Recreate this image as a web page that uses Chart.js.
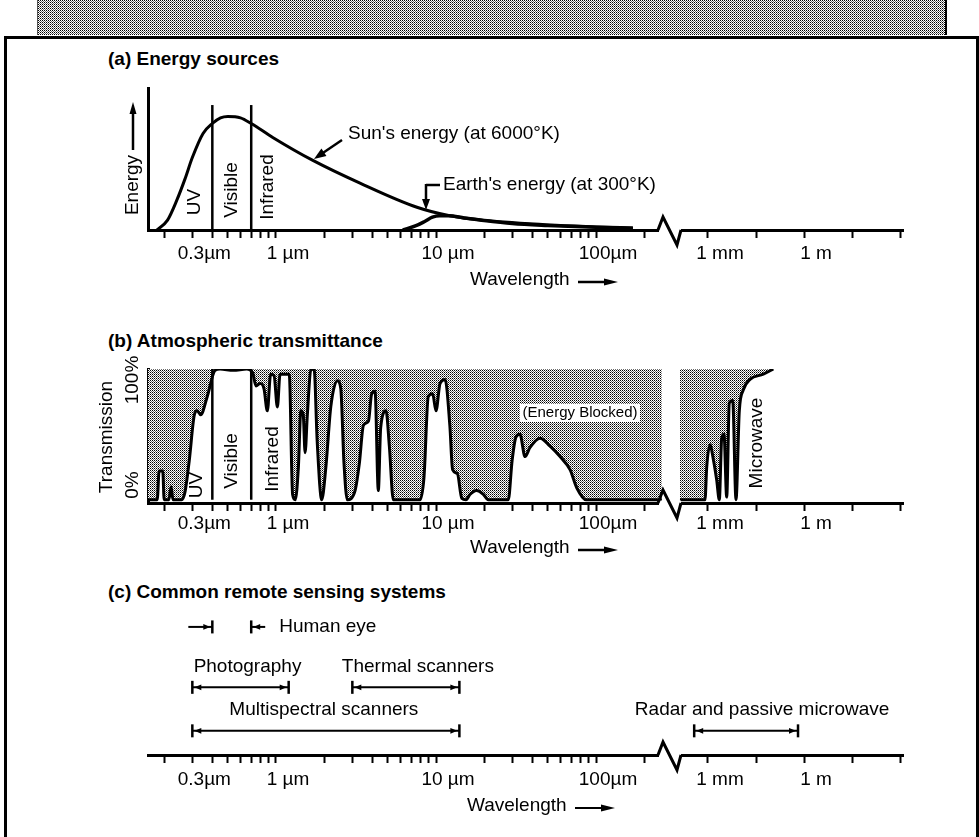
<!DOCTYPE html>
<html>
<head>
<meta charset="utf-8">
<script src="https://cdn.jsdelivr.net/npm/chart.js@4.4.1/dist/chart.umd.min.js"></script>
<style>
  body { margin: 0; background: #fff; width: 979px; height: 837px; overflow: hidden; position: relative;
         font-family: "Liberation Sans", Arial, sans-serif; }
  #band { position: absolute; left: 37px; top: 0; width: 907px; height: 35px;
          border-left: 1px solid #555; border-right: 2px solid #000; }
  #frame { position: absolute; left: 4px; top: 36px; width: 969px; height: 830px;
           border: 3px solid #000; border-bottom: none; }
  .ttl { position: absolute; left: 108px; font-weight: bold; font-size: 19px; line-height: 19px; white-space: nowrap; }
  canvas { position: absolute; left: 0; }
</style>
</head>
<body>
<div id="band"></div>
<div id="frame"></div>
<div class="ttl" style="top:49px">(a) Energy sources</div>
<div class="ttl" style="top:331px">(b) Atmospheric transmittance</div>
<div class="ttl" style="top:582px">(c) Common remote sensing systems</div>
<canvas id="ca" width="979" height="240" style="top:70px"></canvas>
<canvas id="cb" width="979" height="215" style="top:350px"></canvas>
<canvas id="cc" width="979" height="237" style="top:600px"></canvas>
<script>
const FONT = '"Liberation Sans", Arial, Helvetica, sans-serif';
Chart.defaults.font.family = FONT;
Chart.defaults.color = '#000';

// wavelength axis, values in µm (left part log, right part after the break)
const leftTicks = [0.2, 0.3, 0.4, 0.5, 0.6, 0.7, 0.8, 0.9, 1, 2, 3, 4, 5, 6, 7, 8, 9,
                   10, 20, 30, 40, 50, 60, 70, 80, 90, 100, 200];
const leftTickLabels = { 0.3: '0.3µm', 1: '1 µm', 10: '10 µm', 100: '100µm' };
const rightTicks = [1e3, 3.162e4, 1e6, 3.162e7, 1e9];
const rightTickLabels = { 1000: '1 mm', 1000000: '1 m' };

// (a) energy sources, relative energy
const sunWl     = [0.18, 0.21, 0.24, 0.27, 0.30, 0.35, 0.40, 0.45, 0.50, 0.60, 0.70, 0.96, 1.7, 3.35, 7.6, 12.2, 20, 51, 100, 170];
const sunEnergy = [0, 0.07, 0.21, 0.36, 0.51, 0.68, 0.75, 0.79, 0.80, 0.79, 0.75, 0.65, 0.49, 0.33, 0.16, 0.10, 0.068, 0.035, 0.022, 0.014];
const earthWl     = [6.2, 7.5, 8.5, 9.5, 10.5, 12, 15, 20, 30, 50, 100, 170];
const earthEnergy = [0, 0.03, 0.06, 0.09, 0.10, 0.10, 0.085, 0.066, 0.045, 0.032, 0.02, 0.013];
const bandEdges = [0.4, 0.7];
const bandTopA = 0.88;

// (b) atmospheric transmission, %
const transWl  = [0.1585, 0.181, 0.186, 0.196, 0.200, 0.214, 0.221, 0.227, 0.257, 0.270, 0.287, 0.309, 0.322, 0.338, 0.372,
                  0.416, 0.447, 0.541, 0.656, 0.715, 0.75, 0.794, 0.841, 0.883, 0.926, 0.972, 1.02, 1.06, 1.21, 1.27,
                  1.32, 1.38, 1.43, 1.48, 1.52, 1.57, 1.65, 1.73, 1.81, 1.93, 2.05, 2.20, 2.42, 2.54, 2.66,
                  2.79, 3.12, 3.32, 3.52, 3.78, 3.96, 4.16, 4.36, 4.51, 4.87, 5.11, 5.41, 7.94, 8.41, 8.95,
                  9.53, 10.0, 10.6, 11.4, 12.2, 12.7, 13.6, 14.5, 15.4, 16.3, 17.9, 19.8, 21.2, 28.3, 29.9,
                  31.6, 33.5, 36, 38.7, 44.7, 51.6, 59.6, 68.8, 75.9, 86.7, 258];
const transPct = [0, 0, 22, 22, 0, 0, 10, 0, 0, 6, 30, 65, 68, 65, 79,
                  99, 100, 99, 100, 97, 87, 89, 85, 68, 96, 95, 71, 96, 96, 4,
                  0, 25, 68, 65, 36, 65, 99, 100, 44, 0, 25, 71, 91, 85, 28,
                  0, 7, 28, 57, 60, 81, 83, 7, 55, 68, 41, 0, 0, 17, 79,
                  81, 68, 89, 92, 57, 23, 20, 1, 0, 4, 7, 4, 0, 0, 30,
                  48, 50, 33, 40, 47, 41, 33, 23, 9, 0, 0];
const microWl  = [133, 806, 912, 1155, 1465, 1870, 2255, 2680, 3162, 3838, 4634, 5910, 7500, 9510, 12700, 20500, 53500, 110000];
const microPct = [0, 0, 25, 42, 31, 15, 0, 47, 50, 2, 74, 76, 0, 68, 84, 92, 96, 100];

// (c) remote sensing systems, µm
const systemNames = ['Photography', 'Thermal scanners', 'Multispectral scanners', 'Radar and passive microwave'];
const systemLo = [0.3, 3, 0.3, 370];
const systemHi = [1.2, 14, 14, 650000];
const eyeRange = [0.4, 0.7];

// layout only
const systemRow = [2.8, 2.8, 1, 1];
const systemAxis = ['x', 'x', 'x', 'x2'];
const systemLabelDx = [7, 12, -2, 16];
const eyeRow = 5.3;

const pts = (xs, ys) => xs.map((x, i) => ({ x: x, y: ys[i] }));

function halftoneTile() {
  const t = document.createElement('canvas');
  t.width = 2; t.height = 2;
  const c = t.getContext('2d');
  c.fillStyle = '#fff'; c.fillRect(0, 0, 2, 2);
  c.fillStyle = '#000'; c.fillRect(0, 0, 1, 1);
  c.fillStyle = '#6a6a6a'; c.fillRect(1, 1, 1, 1);
  return t;
}
document.getElementById('band').style.backgroundImage = 'url(' + halftoneTile().toDataURL() + ')';

function wlScales(pad, axisH) {
  const common = () => ({
    type: 'logarithmic', position: 'bottom', stack: 'wl',
    border: { display: true, color: '#000', width: 3 },
    grid: { drawOnChartArea: false, tickLength: 8, tickWidth: 2, tickColor: '#000' },
    afterFit: s => { s.height = axisH; }
  });
  const tickOpts = { autoSkip: false, maxRotation: 0, minRotation: 0, padding: pad, labelOffset: 12,
                     color: '#000', font: { family: FONT, size: 19 } };
  return {
    x: Object.assign(common(), {
      min: 0.1585, max: 298.5, stackWeight: 524,
      afterBuildTicks: s => { s.ticks = leftTicks.map(v => ({ value: v })); },
      ticks: Object.assign({}, tickOpts, { callback: v => leftTickLabels[v] || '' })
    }),
    x2: Object.assign(common(), {
      min: 75, max: 1.24e9, stackWeight: 231,
      afterBuildTicks: s => { s.ticks = rightTicks.map(v => ({ value: v })); },
      ticks: Object.assign({}, tickOpts, { callback: v => rightTickLabels[v] || '' })
    })
  };
}

function leftAxis(min, max) {
  return { min: min, max: max, ticks: { display: false }, grid: { display: false },
           border: { display: true, color: '#000', width: 3 }, afterFit: s => { s.width = 0; } };
}

function baseOptions(padTop, scales) {
  return {
    responsive: false, animation: false, devicePixelRatio: 1,
    layout: { padding: { left: 148, right: 76, top: padTop, bottom: 0 } },
    plugins: { legend: { display: false }, tooltip: { enabled: false } },
    elements: { point: { radius: 0 } },
    scales: scales
  };
}

// drawing helpers
function txt(ctx, s, x, y, size, align) {
  ctx.font = (size || 19) + 'px ' + FONT;
  ctx.textAlign = align || 'left';
  ctx.textBaseline = 'middle';
  ctx.fillStyle = '#000';
  ctx.fillText(s, x, y);
}
function vtxt(ctx, s, x, y, size) {
  ctx.save(); ctx.translate(x, y); ctx.rotate(-Math.PI / 2);
  txt(ctx, s, 0, 0, size, 'center');
  ctx.restore();
}
function arrow(ctx, x1, y1, x2, y2, lw, hl, hw) {
  const a = Math.atan2(y2 - y1, x2 - x1);
  ctx.strokeStyle = '#000'; ctx.fillStyle = '#000'; ctx.lineWidth = lw;
  ctx.beginPath(); ctx.moveTo(x1, y1);
  ctx.lineTo(x2 - hl * 0.7 * Math.cos(a), y2 - hl * 0.7 * Math.sin(a)); ctx.stroke();
  ctx.beginPath(); ctx.moveTo(x2, y2);
  ctx.lineTo(x2 - hl * Math.cos(a) + hw * Math.sin(a), y2 - hl * Math.sin(a) - hw * Math.cos(a));
  ctx.lineTo(x2 - hl * Math.cos(a) - hw * Math.sin(a), y2 - hl * Math.sin(a) + hw * Math.cos(a));
  ctx.closePath(); ctx.fill();
}
function zigzag(chart) {
  const ctx = chart.ctx, j = chart.scales.x.right, y = chart.chartArea.bottom;
  ctx.fillStyle = '#fff';
  ctx.fillRect(j - 13, y - 2.5, 22, 5);
  ctx.beginPath();
  ctx.moveTo(j - 14, y); ctx.lineTo(j - 9, y - 13); ctx.lineTo(j + 5, y + 15); ctx.lineTo(j + 9, y);
  ctx.strokeStyle = '#000'; ctx.lineWidth = 3; ctx.lineJoin = 'miter'; ctx.stroke();
}
function wavelengthLabel(ctx, x, y, lw) {
  txt(ctx, 'Wavelength', x, y, 19);
  arrow(ctx, x + 108, y + 2, x + 148, y + 2, lw, 14, 3.5);
}

// ---------- (a) ----------
const bandLine = (edge, top) => ({ data: [{ x: edge, y: 0 }, { x: edge, y: top }], borderColor: '#000', borderWidth: 2.5, order: -1 });

new Chart(document.getElementById('ca'), {
  type: 'line',
  data: {
    datasets: [
      { data: pts(sunWl, sunEnergy), borderColor: '#000', borderWidth: 3, cubicInterpolationMode: 'monotone' },
      { data: pts(earthWl, earthEnergy), borderColor: '#000', borderWidth: 3.5, cubicInterpolationMode: 'monotone' },
      bandLine(bandEdges[0], bandTopA),
      bandLine(bandEdges[1], bandTopA)
    ]
  },
  options: baseOptions(18, Object.assign(wlScales(4, 80), { y: leftAxis(0, 1) })),
  plugins: [{
    id: 'extrasA',
    afterDraw(chart) {
      zigzag(chart);
      const ctx = chart.ctx;
      ctx.save(); ctx.translate(0, -70);
      vtxt(ctx, 'Energy', 133, 185);
      arrow(ctx, 133, 150, 133, 102, 2.5, 12, 3.5);
      vtxt(ctx, 'UV', 195, 202);
      vtxt(ctx, 'Visible', 232, 190);
      vtxt(ctx, 'Infrared', 268, 187);
      txt(ctx, "Sun's energy (at 6000°K)", 348, 134);
      arrow(ctx, 342, 140, 314, 159, 2.5, 12, 4.5);
      txt(ctx, "Earth's energy (at 300°K)", 443, 185);
      ctx.lineWidth = 2.5; ctx.strokeStyle = '#000';
      ctx.beginPath(); ctx.moveTo(440, 185); ctx.lineTo(426, 185); ctx.stroke();
      arrow(ctx, 426, 184, 426, 210, 2.5, 11, 4);
      wavelengthLabel(ctx, 470, 280, 2.5);
      ctx.restore();
    }
  }]
});

// ---------- (b) ----------
const ctxB = document.getElementById('cb').getContext('2d');
const patB = ctxB.createPattern(halftoneTile(), 'repeat');

new Chart(ctxB, {
  type: 'line',
  data: {
    datasets: [
      { data: pts(transWl, transPct), borderColor: '#000', borderWidth: 3, fill: 'end',
        backgroundColor: patB, cubicInterpolationMode: 'monotone' },
      { data: pts(microWl, microPct), xAxisID: 'x2', borderColor: '#000', borderWidth: 3, fill: 'end',
        backgroundColor: patB, cubicInterpolationMode: 'monotone' },
      bandLine(bandEdges[0], 100),
      bandLine(bandEdges[1], 100)
    ]
  },
  options: baseOptions(19, Object.assign(wlScales(1, 62), { y: leftAxis(-2.5, 100) })),
  plugins: [{
    id: 'extrasB',
    afterDraw(chart) {
      zigzag(chart);
      const ctx = chart.ctx;
      ctx.save(); ctx.translate(0, -350);
      vtxt(ctx, 'Transmission', 107, 437);
      vtxt(ctx, '100%', 133, 380);
      vtxt(ctx, '0%', 133, 485);
      vtxt(ctx, 'UV', 197, 485);
      vtxt(ctx, 'Visible', 232, 461);
      vtxt(ctx, 'Infrared', 273, 459);
      ctx.fillStyle = '#fff'; ctx.fillRect(520, 404, 120, 18);
      txt(ctx, '(Energy Blocked)', 580, 413, 15, 'center');
      vtxt(ctx, 'Microwave', 757, 443);
      wavelengthLabel(ctx, 470, 548, 2.5);
      ctx.restore();
    }
  }]
});

// ---------- (c) ----------
const systemSets = systemNames.map((name, i) => ({
  label: name,
  data: [{ x: systemLo[i], y: systemRow[i] }, { x: systemHi[i], y: systemRow[i] }],
  xAxisID: systemAxis[i], borderColor: '#000', borderWidth: 2,
  pointStyle: 'line', pointRotation: 90, pointRadius: 6.5, pointBorderWidth: 2.5, pointBorderColor: '#000'
}));
systemSets.push({
  label: 'Human eye',
  data: [{ x: eyeRange[0], y: eyeRow }, { x: eyeRange[1], y: eyeRow }],
  showLine: false, pointStyle: 'line', pointRotation: 90, pointRadius: 6.5, pointBorderWidth: 2.5, pointBorderColor: '#000'
});

function headTo(ctx, tipX, y, dir) {
  // small filled arrowhead pointing in direction dir (+1 right, -1 left)
  ctx.beginPath(); ctx.moveTo(tipX, y);
  ctx.lineTo(tipX - dir * 7, y - 2.8); ctx.lineTo(tipX - dir * 7, y + 2.8);
  ctx.closePath(); ctx.fill();
}

new Chart(document.getElementById('cc'), {
  type: 'line',
  data: { datasets: systemSets },
  options: baseOptions(10, Object.assign(wlScales(5, 82), { y: { display: false, min: 0, max: 6 } })),
  plugins: [{
    id: 'extrasC',
    afterDraw(chart) {
      zigzag(chart);
      const ctx = chart.ctx;
      ctx.fillStyle = '#000'; ctx.strokeStyle = '#000';
      chart.data.datasets.forEach((ds, i) => {
        const p = chart.getDatasetMeta(i).data;
        const a = p[0], b = p[1];
        if (ds.showLine === false) {
          ctx.lineWidth = 2;
          ctx.beginPath(); ctx.moveTo(a.x - 24, a.y); ctx.lineTo(a.x, a.y); ctx.stroke();
          headTo(ctx, a.x - 2, a.y, 1);
          ctx.beginPath(); ctx.moveTo(b.x, b.y); ctx.lineTo(b.x + 14, b.y); ctx.stroke();
          headTo(ctx, b.x + 2, b.y, -1);
          txt(ctx, ds.label, b.x + 28, b.y, 19);
        } else {
          headTo(ctx, a.x + 2, a.y, -1);
          headTo(ctx, b.x - 2, b.y, 1);
          txt(ctx, ds.label, (a.x + b.x) / 2 + systemLabelDx[i], a.y - 21, 19, 'center');
        }
      });
      ctx.save(); ctx.translate(0, -600);
      wavelengthLabel(ctx, 467, 806, 2);
      ctx.restore();
    }
  }]
});
</script>
</body>
</html>
